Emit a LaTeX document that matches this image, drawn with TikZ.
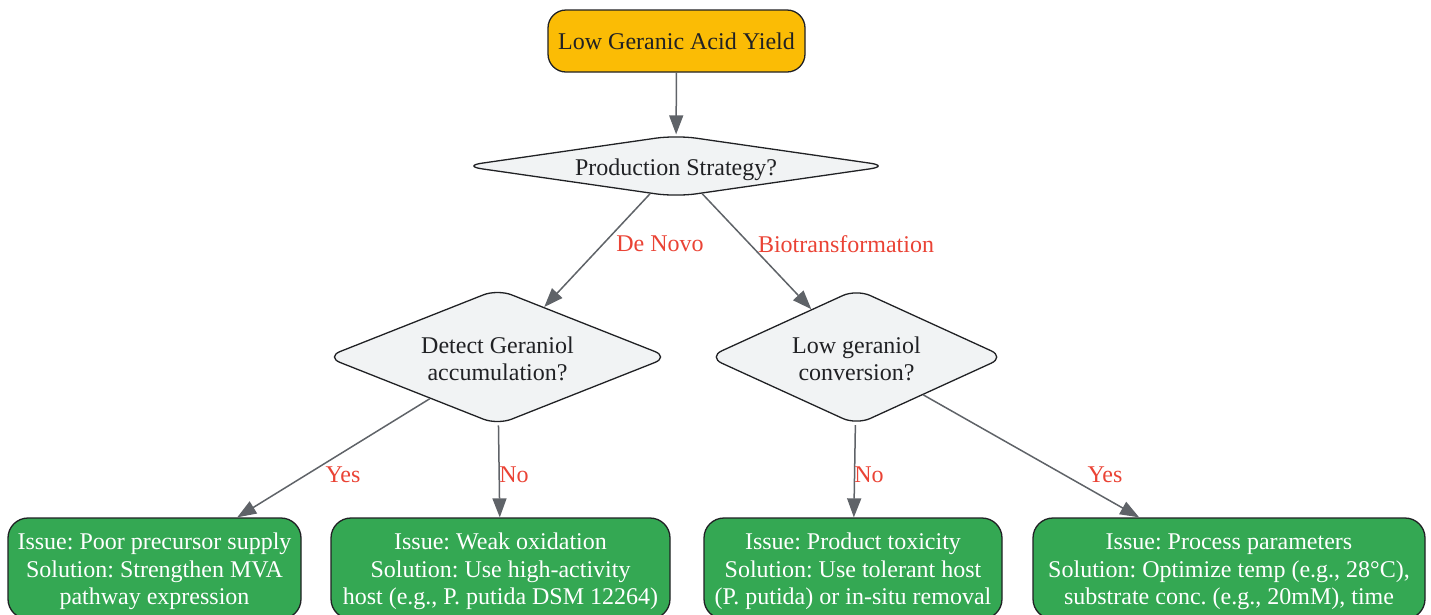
\documentclass[tikz,border=0pt]{standalone}
\usepackage{fontspec}
\setmainfont{Liberation Serif}
\usetikzlibrary{shapes.geometric,arrows.meta}
\definecolor{amber}{HTML}{FBBC05}
\definecolor{gbox}{HTML}{34A853}
\definecolor{dfill}{HTML}{F1F3F4}
\definecolor{edgec}{HTML}{5F6368}
\definecolor{lblc}{HTML}{EA4335}
\definecolor{bord}{HTML}{202124}
\newcommand{\liftline}[1]{\rule{0pt}{#1}}
\frenchspacing
\begin{document}
\begin{tikzpicture}[x=1pt,y=1pt,
  every node/.style={font=\fontsize{24}{27.5}\selectfont},
  startbox/.style={draw=bord, line width=1.3pt, fill=amber, rounded corners=18pt, minimum width=257pt, minimum height=62pt, inner sep=0pt, text=bord},
  decision/.style={diamond, draw=bord, line width=1.3pt, fill=dfill, rounded corners=15pt, inner sep=0pt, align=center, text=bord},
  resultbox/.style={draw=bord, line width=1.3pt, fill=gbox, rounded corners=20pt, minimum height=101pt, inner sep=0pt, align=center, text=white},
  conn/.style={draw=edgec, line width=1.5pt, -{Triangle[length=19pt,width=14pt]}},
  elabel/.style={text=lblc, inner sep=0pt}
]
\useasboundingbox (0,0) rectangle (1431,-614);
\clip (0,0) rectangle (1431,-614);
\node[startbox] (start) at (676.5,-41) {Low Geranic Acid Yield};
\node[decision, rounded corners=20pt, minimum width=428pt, minimum height=62pt, aspect=6.9] (ps) at (676,-166) {\liftline{24.8pt}Production Strategy?};
\node[decision, minimum width=343pt, minimum height=136pt, aspect=2.52] (dg) at (497.5,-357) {\liftline{20.8pt}Detect Geraniol\\accumulation?};
\node[decision, minimum width=297pt, minimum height=136pt, aspect=2.18] (lg) at (856.5,-357) {\liftline{20.8pt}Low geraniol\\conversion?};
\node[resultbox, minimum width=293pt] (b1) at (154.5,-568.5) {\liftline{22.8pt}Issue: Poor precursor supply\\Solution: Strengthen MVA\\pathway expression};
\node[resultbox, minimum width=339pt] (b2) at (500.5,-568.5) {\liftline{22.8pt}Issue: Weak oxidation\\Solution: Use high-activity\\host (e.g., P. putida DSM 12264)};
\node[resultbox, minimum width=298pt] (b3) at (853,-568.5) {\liftline{22.8pt}Issue: Product toxicity\\Solution: Use tolerant host\\(P. putida) or in-situ removal};
\node[resultbox, minimum width=392pt] (b4) at (1229,-568.5) {\liftline{22.8pt}Issue: Process parameters\\Solution: Optimize temp (e.g., 28°C),\\substrate conc. (e.g., 20mM), time};
\draw[conn] (start) -- (ps);
\draw[conn] (ps) -- (dg);
\draw[conn] (ps) -- (lg);
\draw[conn] (dg) -- (b1);
\draw[conn] (dg) -- (b2);
\draw[conn] (lg) -- (b3);
\draw[conn] (lg) -- (b4);
\node[elabel] (l1) at (660,-244) {De Novo};
\node[elabel] (l2) at (846,-244) {Biotransformation};
\node[elabel] (l3) at (343,-475) {Yes};
\node[elabel] (l4) at (514,-475) {No};
\node[elabel] (l5) at (869,-475) {No};
\node[elabel] (l6) at (1105,-475) {Yes};
\end{tikzpicture}
\end{document}
